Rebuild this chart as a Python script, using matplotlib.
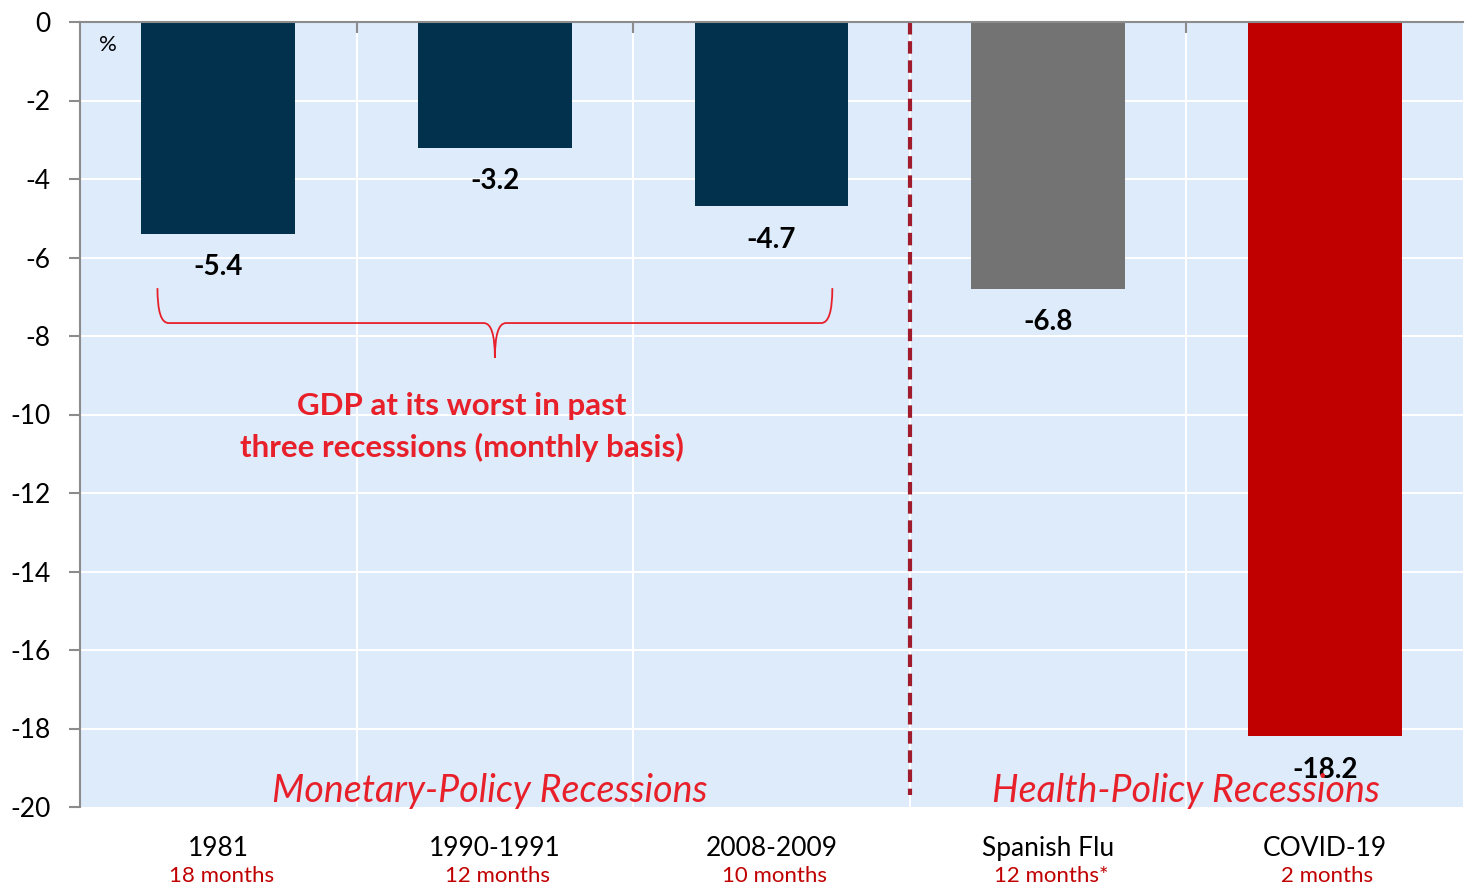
import matplotlib.pyplot as plt
from matplotlib.path import Path
from matplotlib.patches import PathPatch

plt.rcParams['font.family'] = ['Lato', 'DejaVu Sans']

# data
recessions = ["1981", "1990-1991", "2008-2009", "Spanish Flu", "COVID-19"]
durations = ["18 months", "12 months", "10 months", "12 months*", "2 months"]
gdp_worst = [-5.4, -3.2, -4.7, -6.8, -18.2]
bar_colors = ["#02314D", "#02314D", "#02314D", "#737373", "#C00000"]
y_ticks = [0, -2, -4, -6, -8, -10, -12, -14, -16, -18, -20]

fig = plt.figure(figsize=(14.7, 8.86), dpi=100)
ax = fig.add_axes([80 / 1470, 1 - 807 / 886, (1463 - 80) / 1470, (807 - 22) / 886])
ax.set_facecolor("#DDEBFB")

x = list(range(len(recessions)))
ax.bar(x, gdp_worst, width=0.556, color=bar_colors, zorder=3)

ax.set_xlim(-0.5, len(recessions) - 0.5)
ax.set_ylim(-20, 0)
ax.set_yticks(y_ticks)
ax.set_yticklabels([str(v) for v in y_ticks], fontsize=19)

# grid
for v in y_ticks[1:-1]:
    ax.axhline(v, color="white", lw=1.5, zorder=1)
for b in [0.5, 1.5, 2.5, 3.5]:
    ax.axvline(b, color="white", lw=1.5, zorder=1)

for s in ["right", "bottom"]:
    ax.spines[s].set_visible(False)
for s in ["left", "top"]:
    ax.spines[s].set_color("#8C8C8C")
    ax.spines[s].set_linewidth(1.5)
    ax.spines[s].set_zorder(4)

ax.tick_params(axis="y", length=8, width=1.5, color="#8C8C8C", pad=13)
ax.set_xticks(x)
ax.set_xticklabels(recessions, fontsize=19)
ax.tick_params(axis="x", which="major", length=0, pad=21)
ax.set_xticks([0.5, 1.5, 2.5, 3.5], minor=True)
ax.tick_params(axis="x", which="minor", top=True, bottom=False, direction="in",
               length=8, width=1.5, color="#8C8C8C")

# months under category names
for xi, d in zip(x, durations):
    ax.text(xi + 0.01, -0.0885, d, transform=ax.get_xaxis_transform(), ha="center",
            va="center", fontsize=16, color="#C00000")

# value labels
for xi, v in zip(x, gdp_worst):
    ax.text(xi, v - 0.85, f"{v:.1f}", ha="center", va="center", fontsize=20,
            fontweight="bold", color="black", zorder=5)

# divider
ax.plot([2.5, 2.5], [0, -19.7], color="#A01C2C", lw=3, ls=(0, (3, 1.6)), zorder=4)

ax.text(-0.40, -0.58, "%", fontsize=16, ha="center", va="center", zorder=5)

# brace over the monetary recessions
xl, xr, xm = -0.22, 2.22, 1.0
ytop, ymid, ytip = -6.78, -7.67, -8.56
codes = [Path.MOVETO, Path.CURVE3, Path.CURVE3,
         Path.LINETO, Path.CURVE3, Path.CURVE3,
         Path.MOVETO, Path.CURVE3, Path.CURVE3,
         Path.LINETO, Path.CURVE3, Path.CURVE3]
verts = [(xl, ytop), (xl, ymid), (xl + 0.04, ymid),
         (xm - 0.04, ymid), (xm, ymid), (xm, ytip),
         (xm, ytip), (xm, ymid), (xm + 0.04, ymid),
         (xr - 0.04, ymid), (xr, ymid), (xr, ytop)]
ax.add_patch(PathPatch(Path(verts, codes), fill=False, edgecolor="#E8202A", lw=1.3, zorder=4))

ax.text(0.88, -10.32, "GDP at its worst in past\nthree recessions (monthly basis)",
        ha="center", va="center", fontsize=22.5, fontweight="bold", color="#E8202A",
        linespacing=1.55, zorder=5)

ax.text(0.98, -19.6, "Monetary-Policy Recessions", ha="center", va="center",
        fontsize=27, style="italic", color="#E8202A", zorder=5)
ax.text(3.5, -19.6, "Health-Policy Recessions", ha="center", va="center",
        fontsize=27, style="italic", color="#E8202A", zorder=5)

fig.savefig("out.png", dpi=100)
